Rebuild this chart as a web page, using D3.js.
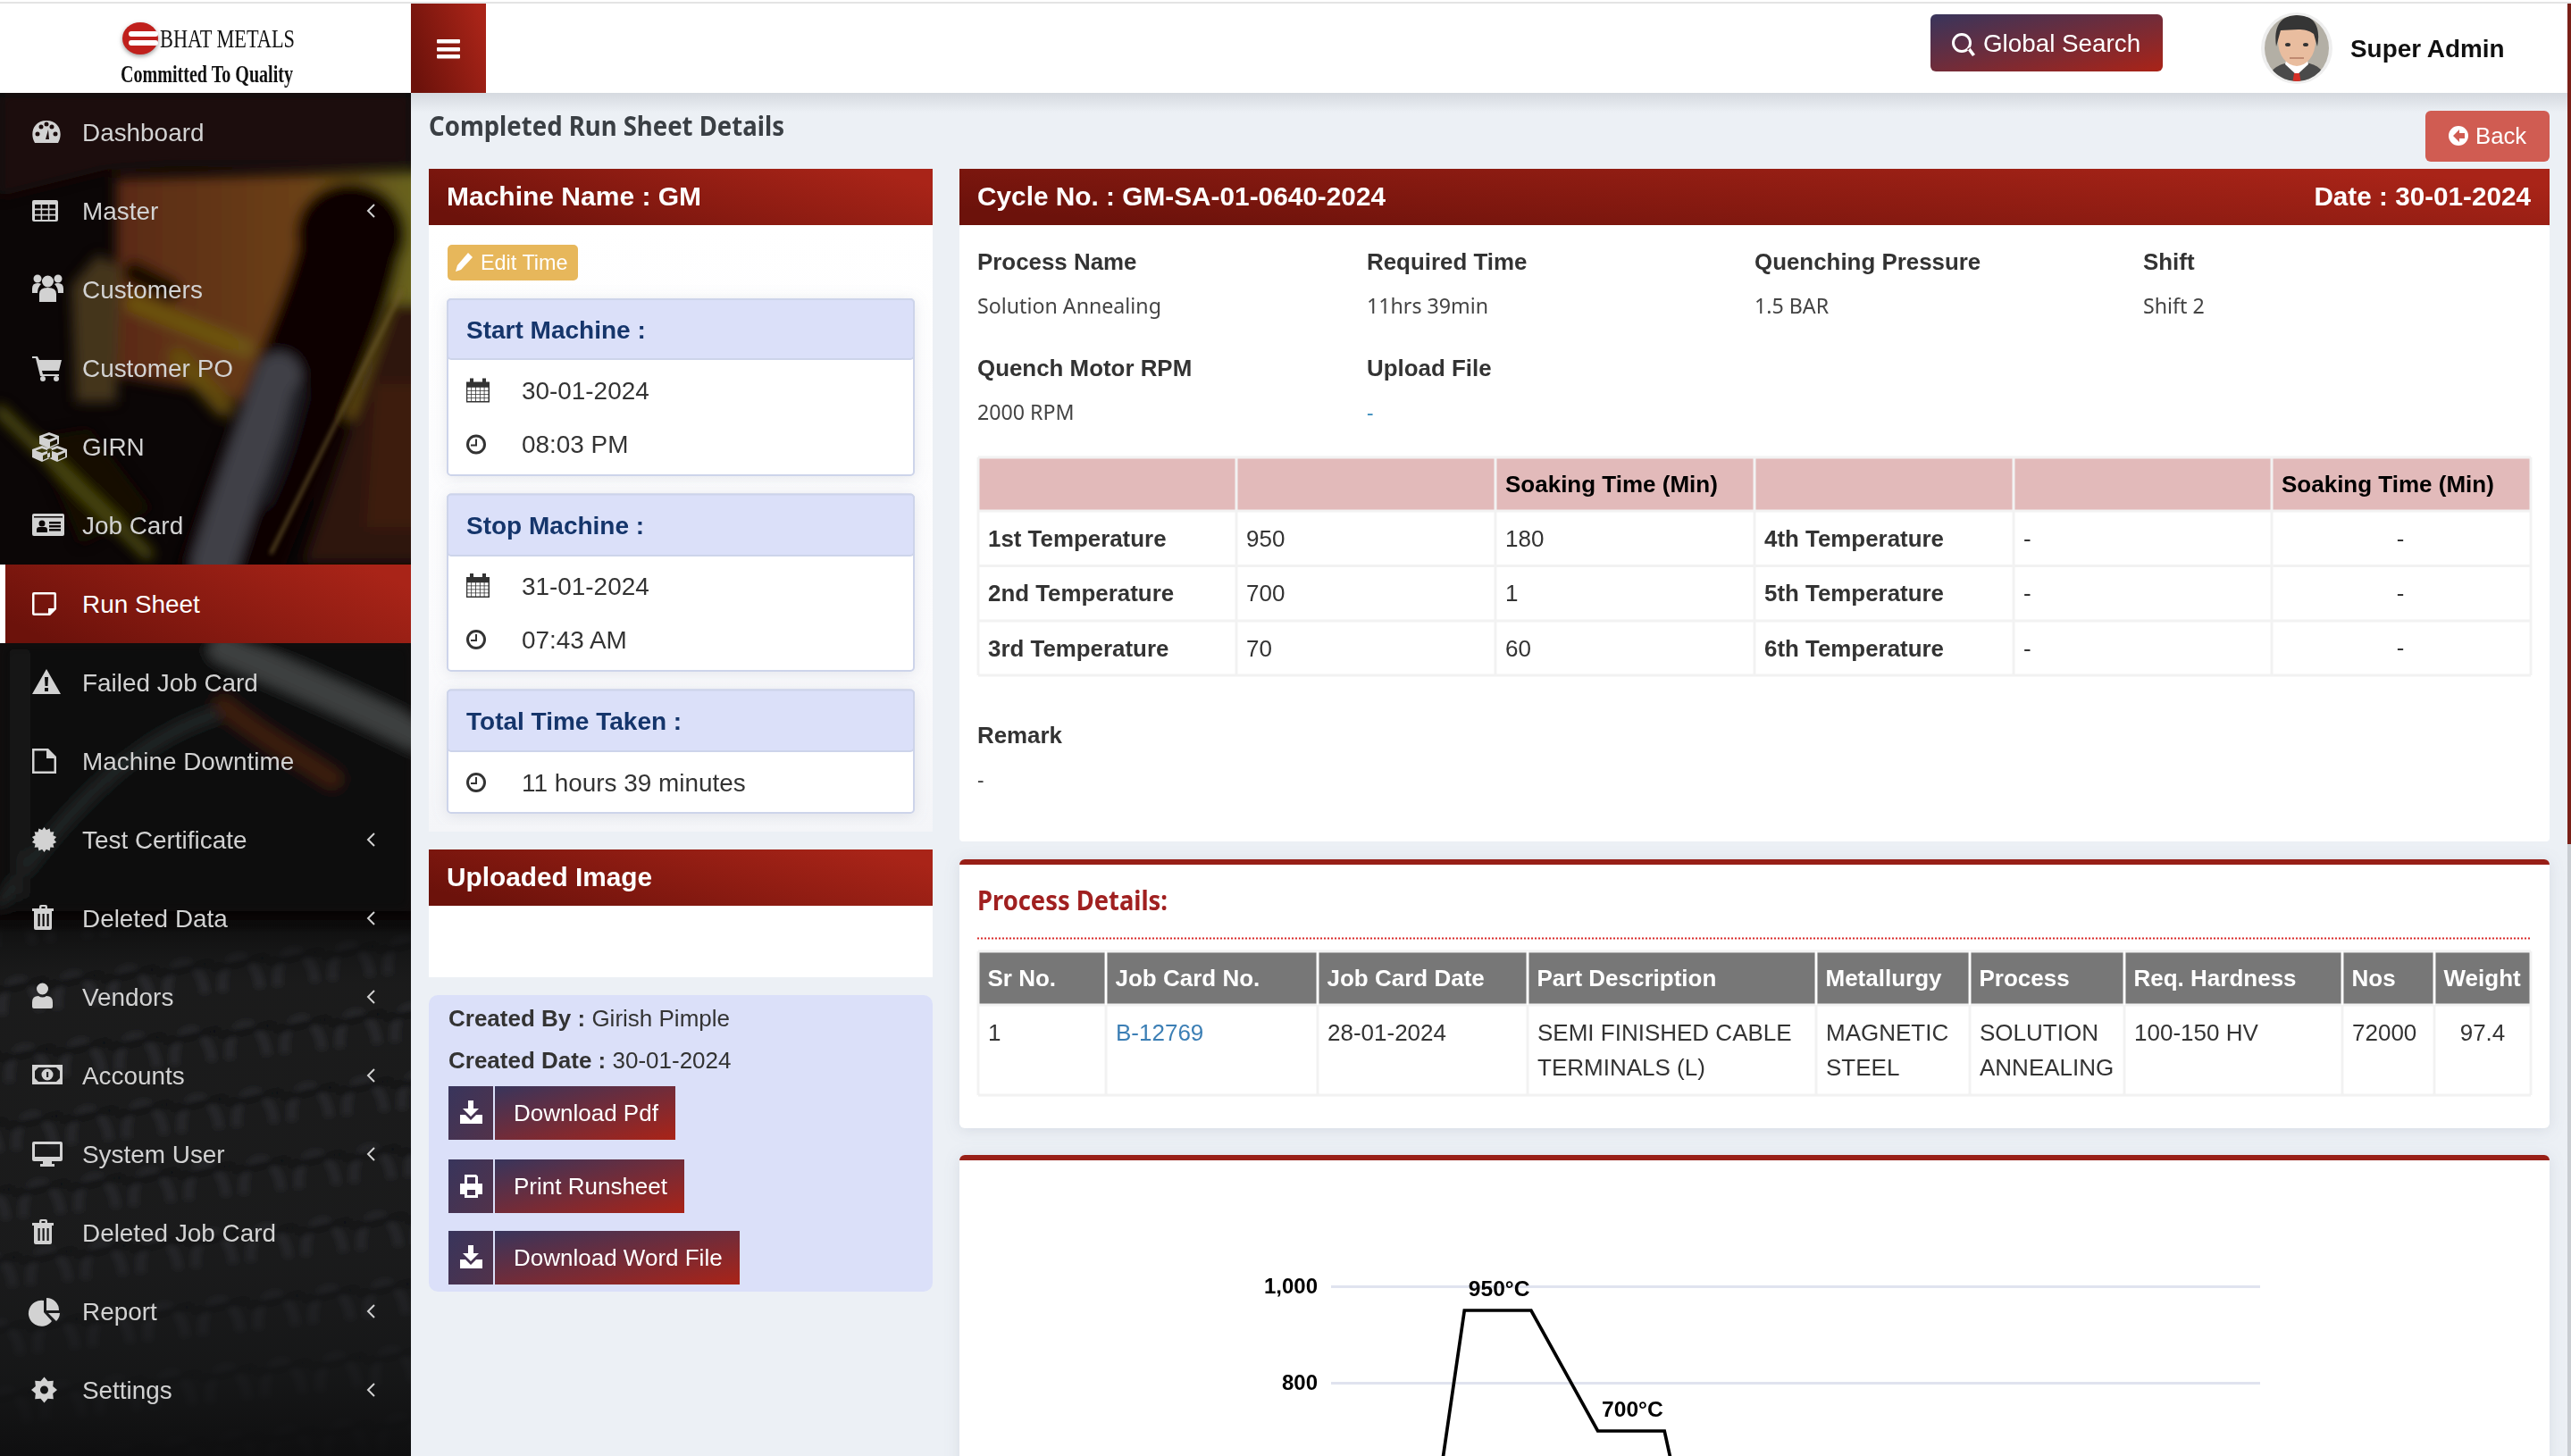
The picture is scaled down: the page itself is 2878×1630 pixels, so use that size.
<!DOCTYPE html>
<html>
<head>
<meta charset="utf-8">
<title>Completed Run Sheet Details</title>
<script src="https://cdnjs.cloudflare.com/ajax/libs/d3/7.8.5/d3.min.js"></script>
<style>
  html, body { margin: 0; padding: 0; background: #ecf0f5; overflow: hidden; }
  svg { display: block; }
</style>
</head>
<body>
<svg id="page" width="2878" height="1630"></svg>
<script>
// ---- data ----
var menuLabels = ["Dashboard", "Master", "Customers", "Customer PO", "GIRN", "Job Card", "Run Sheet", "Failed Job Card",
  "Machine Downtime", "Test Certificate", "Deleted Data", "Vendors", "Accounts", "System User", "Deleted Job Card", "Report", "Settings"];
var menuIcons = ["gauge", "grid", "users", "cart", "cubes", "idcard", "note", "warning",
  "file", "burst", "trash", "user", "money", "desktop", "trash", "pie", "gear"];
var menuWithArrow = ["Master", "Test Certificate", "Deleted Data", "Vendors", "Accounts", "System User", "Report", "Settings"];
var activeMenu = "Run Sheet";

var infoLabels = ["Process Name", "Required Time", "Quenching Pressure", "Shift", "Quench Motor RPM", "Upload File"];
var infoValues = ["Solution Annealing", "11hrs 39min", "1.5 BAR", "Shift 2", "2000 RPM", "-"];

var tempHeader = ["", "", "Soaking Time (Min)", "", "", "Soaking Time (Min)"];
var tempRows = [
  ["1st Temperature", "950", "180", "4th Temperature", "-", "-"],
  ["2nd Temperature", "700", "1", "5th Temperature", "-", "-"],
  ["3rd Temperature", "70", "60", "6th Temperature", "-", "-"]
];

var processHeader = ["Sr No.", "Job Card No.", "Job Card Date", "Part Description", "Metallurgy", "Process", "Req. Hardness", "Nos", "Weight"];
var processRow = [["1"], ["B-12769"], ["28-01-2024"], ["SEMI FINISHED CABLE", "TERMINALS (L)"], ["MAGNETIC", "STEEL"],
  ["SOLUTION", "ANNEALING"], ["100-150 HV"], ["72000"], ["97.4"]];

// chart: the cycle profile, only the top of it is on screen
var chartSteps = [0, 1, 2, 3, 4, 5, 6, 7, 8, 9, 10, 11, 12, 13, 14];
var cycleSteps = [1, 2, 3, 4, 5, 6, 7, 8];
var cycleTemps = [0, 950, 950, 700, 700, 70, 70, 0];
var tempTicks = [800, 1000];

// ---- helpers ----
var svg = d3.select("#page");
var SANS = "'Liberation Sans', Arial, sans-serif";
var SOFT = "'Noto Sans', sans-serif";
var SERIF = "'Liberation Serif', serif";

function txt(g, x, y, s, o) {
  o = o || {};
  var t = g.append("text")
    .attr("x", x).attr("y", y).attr("dy", "0.35em")
    .attr("font-family", o.font || SANS)
    .attr("font-size", o.size || 25.7)
    .attr("font-weight", o.bold ? 700 : 400)
    .attr("fill", o.fill || "#333")
    .attr("text-anchor", o.anchor || "start")
    .text(s);
  // fit width for the fonts we do not have (Source Sans on the original)
  if (o.w) t.attr("textLength", o.w).attr("lengthAdjust", "spacingAndGlyphs");
  return t;
}

function box(g, x, y, w, h, fill, o) {
  o = o || {};
  var r = g.append("rect").attr("x", x).attr("y", y).attr("width", w).attr("height", h).attr("fill", fill);
  if (o.rx) r.attr("rx", o.rx);
  if (o.stroke) r.attr("stroke", o.stroke).attr("stroke-width", o.sw || 2);
  if (o.filter) r.attr("filter", o.filter);
  return r;
}

function dot(x, y, r) {
  return "M" + (x - r) + " " + y + "a" + r + " " + r + " 0 1 0 " + (2 * r) + " 0a" + r + " " + r + " 0 1 0 " + (-2 * r) + " 0Z";
}
function hole(x, y, w, h) {
  return "M" + x + " " + y + "h" + w + "v" + h + "h" + (-w) + "Z";
}
function star(cx, n, ro, ri) {
  var pts = d3.range(n * 2).map(function(i) {
    var a = Math.PI * i / n, r = i % 2 ? ri : ro;
    return (cx + r * Math.sin(a)).toFixed(1) + " " + (-r * Math.cos(a)).toFixed(1);
  });
  return "M" + pts.join("L") + "Z";
}
function cube(cx, cy) {
  return "M" + cx + " " + (cy - 8) + "l11 4v9l-11 5l-11 -5v-9Z" +
    "M" + cx + " " + (cy - 5) + "l-7 2.5l7 2.5l7 -2.5Z" +
    "M" + (cx + 1) + " " + (cy + 3) + "v5l8 -3.5v-5Z";
}

var iconPaths = {
  gauge: "M3 12C-3 2 1 -13 16 -13C31 -13 35 2 29 12Z" + dot(6, 2, 2.5) + dot(10, -6, 2.5) + dot(26, 2, 2.5) + dot(22, -6, 2.5) + dot(16, -9, 2.5) + "M15 8L18 -3L19 8Z",
  grid: "M2 -12H27Q29 -12 29 -10V10Q29 12 27 12H2Q0 12 0 10V-10Q0 -12 2 -12Z" +
    d3.range(3).map(function(c) {
      return d3.range(3).map(function(r) { return hole(3 + c * 8.2, -7 + r * 6.2, 6.6, 4.6); }).join("");
    }).join(""),
  users: dot(6, -12, 4.5) + dot(29, -12, 4.5) + dot(17.5, -9, 6.5) +
    "M8 14V5Q8 -2 17.5 -2Q27 -2 27 5V14Z" + "M0 4V-1Q0 -7 6 -7Q9 -7 10 -6Q6 -2 6 4Z" + "M35 4V-1Q35 -7 29 -7Q26 -7 25 -6Q29 -2 29 4Z",
  cart: "M0 -13H6L8 -9H33L30 3H11L12 7H30V9H9L4 -11H0Z" + dot(12, 12, 3) + dot(27, 12, 3),
  cubes: cube(19, -8) + cube(11, 7) + cube(28, 7),
  idcard: "M2 -13H34Q36 -13 36 -11V10Q36 12 34 12H2Q0 12 0 10V-11Q0 -13 2 -13Z" + hole(2, -10, 32, 1.5) + dot(11, -2, 3.5) + "M5 8V5Q5 2 8 2H14Q17 2 17 5V8Z" + hole(19, -4, 13, 2.5) + hole(19, 0, 13, 2.5) + hole(19, 4, 13, 2.5),
  note: "M2 -13H25Q27 -13 27 -11V6L20 13H2Q0 13 0 11V-11Q0 -13 2 -13Z" + "M2.5 -10.5V10.5H18V5H24.5V-10.5Z",
  warning: "M16 -15L32 13H0Z" + "M14 -6H18L17.5 4H14.5Z" + hole(14, 6, 4, 4),
  file: "M0 -14H18L27 -5V14H0Z" + "M2.5 -11.5V11.5H24.5V-3H16V-11.5Z",
  burst: star(13.5, 14, 14, 11),
  trash: "M8 -11V-13Q8 -15 10 -15H15Q17 -15 17 -13V-11H24V-8H22V11Q22 13 20 13H4Q2 13 2 11V-8H0V-11Z" + hole(10.5, -13, 4, 2) + hole(6.5, -5, 2.2, 14) + hole(11.5, -5, 2.2, 14) + hole(16.5, -5, 2.2, 14),
  user: dot(11.5, -9, 6.5) + "M2 13Q0 13 0 11V6Q0 -1 7 -1Q11.5 2 16 -1Q23 -1 23 6V11Q23 13 21 13Z",
  money: hole(0, -12, 34, 22) + "M7 -9H27L31 -5V3L27 7H7L3 3V-5Z" + dot(17, -1, 6.5) + hole(16, -4, 2.2, 6),
  desktop: "M2 -14H32Q34 -14 34 -12V6Q34 8 32 8H22V11H25V14H9V11H12V8H2Q0 8 0 6V-12Q0 -14 2 -14Z" + hole(3, -11, 28, 14),
  pie: "M13 -12V1L22 11A14.5 14.5 0 1 1 13 -12Z" + "M16 -15A14 14 0 0 1 30 -1H16Z" + "M18 2H31A14 14 0 0 1 27 11Z",
  gear: star(13.5, 8, 14.5, 10.5) + dot(13.5, 0, 4.5),
  calendar: "M0 -10H4V-14H8V-10H18V-14H22V-10H26V13H0Z" +
    d3.range(5).map(function(c) {
      return d3.range(4).map(function(r) { return hole(1.3 + c * 4.8, -3.8 + r * 4, 4, 3.2); }).join("");
    }).join(""),
  clock: dot(11, 0, 11) + dot(11, 0, 8) + "M10 -6H12V2H5V0H10Z",
  pencil: "M14 -11L19 -6L6 8L0 10L2 3Z",
  search: dot(11, -2, 11) + dot(11, -2, 8) + "M17 5L20 3L26 11L23 13Z",
  back: dot(11, 0, 11) + "M12 -7L5 0L12 7V3H18V-3H12Z",
  download: "M9 -14H15V-5H21L12 4L3 -5H9Z" + "M0 2H6L12 8L18 2H25V12H0Z",
  printer: "M5 -13H18L20 -11V-3H25V9H20V13H5V9H0V-3H5Z" + hole(8, -10, 9, 7) + hole(8, 4, 9, 6)
};

function icon(g, name, x, y, fill) {
  return g.append("path").attr("transform", "translate(" + x + "," + y + ")")
    .attr("d", iconPaths[name]).attr("fill", fill).attr("fill-rule", "evenodd");
}

// ---- defs ----
var defs = svg.append("defs");
function grad(id, x1, y1, x2, y2, stops) {
  var g = defs.append("linearGradient").attr("id", id)
    .attr("x1", x1).attr("y1", y1).attr("x2", x2).attr("y2", y2);
  stops.forEach(function(s) { g.append("stop").attr("offset", s[0]).attr("stop-color", s[1]).attr("stop-opacity", s[2] === undefined ? 1 : s[2]); });
}
grad("redHead", 0, 0.7, 1, 0.3, [[0, "#6c120b"], [1, "#a92418"]]);
grad("btnGrad", 0, 0, 1, 1, [[0, "#38355c"], [1, "#aa2317"]]);
grad("btnIcon", 0, 0, 1, 1, [[0, "#38355c"], [1, "#52324a"]]);
grad("headShadow", 0, 0, 0, 1, [[0, "#d5d9df"], [1, "#ecf0f5"]]);
grad("bodyFade", 0, 0, 0, 1, [[0, "#ffffff"], [0.7, "#fbfbfd"], [1, "#f4f5f8"]]);
grad("orangeOlive", 0, 0, 1, 0, [[0, "#5a2a12"], [0.55, "#6a3f14"], [1, "#676a20"]]);
grad("sideFadeBottom", 0, 0, 0, 1, [[0, "#0c0c0c", 0.9], [0.12, "#141516", 0.15], [0.6, "#17181a", 0.3], [0.85, "#141516", 0.75], [1, "#0e0e0f", 0.95]]);
defs.append("filter").attr("id", "blur8").attr("x", "-30%").attr("y", "-30%").attr("width", "160%").attr("height", "160%")
  .append("feGaussianBlur").attr("stdDeviation", 7);
defs.append("filter").attr("id", "blur3").attr("x", "-30%").attr("y", "-30%").attr("width", "160%").attr("height", "160%")
  .append("feGaussianBlur").attr("stdDeviation", 2.5);
defs.append("filter").attr("id", "blurChain").attr("x", "-5%").attr("y", "-5%").attr("width", "110%").attr("height", "110%")
  .append("feGaussianBlur").attr("stdDeviation", 3);
defs.append("filter").attr("id", "soft").attr("x", "-10%").attr("y", "-10%").attr("width", "120%").attr("height", "120%")
  .append("feDropShadow").attr("dx", 0).attr("dy", 2).attr("stdDeviation", 8).attr("flood-color", "#8890a8").attr("flood-opacity", 0.22);
defs.append("clipPath").attr("id", "sideClip").append("rect").attr("x", 0).attr("y", 104).attr("width", 460).attr("height", 1526);
defs.append("clipPath").attr("id", "avatarClip").append("ellipse").attr("cx", 2571).attr("cy", 54).attr("rx", 36).attr("ry", 37);
// the chain mesh at the bottom of the sidebar photo
var chain = defs.append("pattern").attr("id", "chain").attr("patternUnits", "userSpaceOnUse")
  .attr("width", 62).attr("height", 76).attr("patternTransform", "rotate(-6)");
box(chain, 0, 0, 62, 76, "#1b1c1e");
chain.append("path").attr("d", "M8 66C8 18 50 18 50 66").attr("fill", "none").attr("stroke", "#2e2f31").attr("stroke-width", 9);
chain.append("path").attr("d", "M-4 40L66 32").attr("fill", "none").attr("stroke", "#0c0c0d").attr("stroke-width", 7);

// ---- page background ----
box(svg, 0, 0, 2878, 1630, "#ecf0f5");

// ---- sidebar photo ----
var side = svg.append("g").attr("clip-path", "url(#sideClip)");
box(side, 0, 104, 460, 1526, "#0b0606");
var soft = side.append("g").attr("filter", "url(#blur8)");
function smear(d, fill, op) { soft.append("path").attr("d", d).attr("fill", fill).attr("opacity", op === undefined ? 1 : op); }
function streak(d, color, w, op) { soft.append("path").attr("d", d).attr("fill", "none").attr("stroke", color).attr("stroke-width", w).attr("opacity", op === undefined ? 1 : op).attr("stroke-linecap", "round"); }
smear("M0 104H460V185H200L120 190L0 220Z", "#1c0807");
smear("M130 200L490 192V470H300L250 440L130 420Z", "url(#orangeOlive)");
smear("M80 320L110 285L135 300L130 450L85 450Z", "#4a3c1e", 0.9);
smear("M40 490L100 480L170 570L90 610Z", "#180c06");
streak("M150 340L275 390", "#6e5812", 20, 0.9);
streak("M200 400L250 455", "#665010", 22, 0.9);
streak("M0 460L165 620", "#4e4c10", 13);
streak("M150 305L190 325", "#0f0705", 26, 0.9);
smear("M440 340L490 340V630H340Z", "#2e1208");
smear("M420 430L470 430V590H410Z", "#3c1a0a");
streak("M393 265C385 330 340 420 255 640", "#0a0604", 115);
streak("M312 420C290 480 262 560 240 630", "#43454a", 50, 0.95);
streak("M335 440C325 480 315 520 295 560", "#1d1e20", 16);
soft.append("ellipse").attr("cx", 393).attr("cy", 262).attr("rx", 62).attr("ry", 58).attr("fill", "#0a0604");
side.append("path").attr("d", "M450 325L303 620").attr("stroke", "#6d5a2a").attr("stroke-width", 3).attr("fill", "none").attr("filter", "url(#blur3)");
smear("M0 720H460V1020H0Z", "#0a0a0a");
streak("M250 725C330 760 400 790 480 830", "#3d4041", 34);
streak("M250 790C300 830 340 850 372 872", "#3a1a10", 22);
streak("M0 1010C80 900 150 830 240 800", "#242526", 14);
streak("M22 730V1000", "#1b1c1d", 14);
side.append("rect").attr("x", -10).attr("y", 1040).attr("width", 480).attr("height", 600).attr("fill", "url(#chain)").attr("filter", "url(#blurChain)");
box(side, 0, 1030, 460, 600, "url(#sideFadeBottom)");

// ---- sidebar menu ----
var menu = side.selectAll("g.item").data(menuLabels).join("g").attr("class", "item")
  .attr("transform", function(d, i) { return "translate(0," + (104 + 88 * i) + ")"; });
menu.filter(function(d) { return d === activeMenu; }).each(function() {
  var g = d3.select(this);
  box(g, 0, 0, 6, 88, "#fff");
  box(g, 6, 0, 454, 88, "url(#redHead)");
});
menu.each(function(d, i) {
  var g = d3.select(this), col = d === activeMenu ? "#fff" : "#d2d2d2";
  icon(g, menuIcons[i], 36, 44, col);
  txt(g, 92, 44, d, {size: 27.9, fill: col});
  if (menuWithArrow.indexOf(d) >= 0) {
    g.append("path").attr("d", "M419 37L412 44L419 51").attr("fill", "none").attr("stroke", col).attr("stroke-width", 2);
  }
});

// ---- top bar ----
box(svg, 0, 104, 2878, 22, "url(#headShadow)").attr("x", 460);
box(svg, 0, 0, 2878, 104, "#fff");
box(svg, 0, 2, 2878, 2, "#e4e4e4");
var logo = svg.append("g");
logo.append("ellipse").attr("cx", 157).attr("cy", 45).attr("rx", 20).attr("ry", 18).attr("fill", "#999").attr("filter", "url(#blur3)");
logo.append("ellipse").attr("cx", 157).attr("cy", 43).attr("rx", 20).attr("ry", 18).attr("fill", "#c0201c");
box(logo, 144, 35, 33, 6, "#fff", {rx: 3});
box(logo, 144, 45, 33, 6, "#fff", {rx: 3});
txt(logo, 179, 43, "BHAT METALS", {font: SERIF, size: 29, fill: "#111", w: 151});
txt(logo, 135, 82, "Committed To Quality", {font: SERIF, size: 28, bold: true, fill: "#111", w: 193});

box(svg, 460, 4, 84, 100, "url(#redHead)");
[44, 53, 61].forEach(function(y) { box(svg, 489, y, 26, 4.5, "#fff", {rx: 1}); });

box(svg, 2161, 16, 260, 64, "url(#btnGrad)", {rx: 6});
icon(svg, "search", 2185, 50, "#fff");
txt(svg, 2220, 48, "Global Search", {size: 27.8, fill: "#fff"});

var face = svg.append("g");
face.append("ellipse").attr("cx", 2571).attr("cy", 54).attr("rx", 40).attr("ry", 40).attr("fill", "#eeeeee");
var fc = face.append("g").attr("clip-path", "url(#avatarClip)");
box(fc, 2530, 14, 82, 82, "#b3afa5");
fc.append("path").attr("d", "M2537 94C2540 76 2552 72 2562 70H2580C2592 72 2602 76 2605 94Z").attr("fill", "#4a4a4a");
fc.append("path").attr("d", "M2558 72L2571 84L2584 72L2582 64H2560Z").attr("fill", "#fff");
fc.append("path").attr("d", "M2568 82H2574L2576 94H2566Z").attr("fill", "#d63027");
fc.append("ellipse").attr("cx", 2571).attr("cy", 46).attr("rx", 21).attr("ry", 28).attr("fill", "#e9bd9f");
fc.append("path").attr("d", "M2548 52C2544 24 2558 16 2574 17C2592 18 2598 32 2594 52L2590 38C2580 30 2566 34 2553 34Z").attr("fill", "#353535");
fc.append("ellipse").attr("cx", 2561).attr("cy", 50).attr("rx", 3).attr("ry", 2).attr("fill", "#333");
fc.append("ellipse").attr("cx", 2581).attr("cy", 50).attr("rx", 3).attr("ry", 2).attr("fill", "#333");
fc.append("path").attr("d", "M2563 65H2579").attr("stroke", "#b07a62").attr("stroke-width", 1.5);
txt(svg, 2631, 54, "Super Admin", {size: 27.9, bold: true, fill: "#111"});
box(svg, 2874, 4, 4, 941, "#7a2018");
box(svg, 2874, 945, 4, 685, "#c9cdd2");

// ---- page title and back ----
txt(svg, 480, 141.5, "Completed Run Sheet Details", {font: SOFT, size: 31, bold: true, fill: "#3a3f44", w: 398});
box(svg, 2715, 124, 139, 57, "#d05c52", {rx: 6});
icon(svg, "back", 2741, 152, "#fff");
txt(svg, 2771, 152, "Back", {size: 25.7, fill: "#fff"});

// ---- left column ----
box(svg, 480, 252, 564, 679, "url(#bodyFade)");
box(svg, 480, 189, 564, 63, "url(#redHead)");
txt(svg, 500, 219, "Machine Name : GM", {size: 30, bold: true, fill: "#fff"});
box(svg, 501, 274, 146, 40, "#e7b75b", {rx: 5});
icon(svg, "pencil", 510, 294, "#fff");
txt(svg, 538, 294, "Edit Time", {size: 23.4, fill: "#fff"});

function timeCard(top, headBottom, bottom, title, rows) {
  var g = svg.append("g");
  box(g, 501, top, 522, bottom - top, "#fff", {stroke: "#cdd4ea", sw: 2, filter: "url(#soft)", rx: 4});
  box(g, 501, top, 522, headBottom - top, "#dbe0f9", {stroke: "#cdd4ea", sw: 2, rx: 4});
  txt(g, 522, (top + headBottom) / 2 + 0.5, title, {size: 28, bold: true, fill: "#15356b"});
  rows.forEach(function(r) {
    icon(g, r[0], 522, r[1], "#333");
    txt(g, 584, r[1], r[2], {size: 27.9});
  });
}
timeCard(335, 402, 532, "Start Machine :", [["calendar", 437.5, "30-01-2024"], ["clock", 497.5, "08:03 PM"]]);
timeCard(553.5, 622, 751, "Stop Machine :", [["calendar", 656, "31-01-2024"], ["clock", 716, "07:43 AM"]]);
timeCard(772.5, 841, 910, "Total Time Taken :", [["clock", 876, "11 hours 39 minutes"]]);

box(svg, 480, 1014, 564, 80, "#fff");
box(svg, 480, 951, 564, 63, "url(#redHead)");
txt(svg, 500, 982, "Uploaded Image", {size: 29.8, bold: true, fill: "#fff"});

box(svg, 480, 1114, 564, 332, "#dbe0f9", {rx: 10});
var created = txt(svg, 502, 1140, "Created By : ", {size: 26, bold: true});
created.append("tspan").attr("font-weight", 400).text("Girish Pimple");
var createdOn = txt(svg, 502, 1187, "Created Date : ", {size: 26, bold: true});
createdOn.append("tspan").attr("font-weight", 400).text("30-01-2024");
[[1216, 756, "download", "Download Pdf"], [1298, 766, "printer", "Print Runsheet"], [1378, 828, "download", "Download Word File"]].forEach(function(b) {
  box(svg, 502, b[0], 50, 60, "url(#btnIcon)");
  box(svg, 554, b[0], b[1] - 554, 60, "url(#btnGrad)");
  icon(svg, b[2], 515, b[0] + 30, "#fff");
  txt(svg, 575, b[0] + 30, b[3], {size: 26, fill: "#fff"});
});

// ---- right column: cycle header ----
box(svg, 1074, 252, 1780, 690, "#fff", {rx: 4});
box(svg, 1074, 189, 1780, 63, "url(#redHead)");
txt(svg, 1094, 220, "Cycle No. : GM-SA-01-0640-2024", {size: 29.8, bold: true, fill: "#fff"});
txt(svg, 2833, 220, "Date : 30-01-2024", {size: 29.7, bold: true, fill: "#fff", anchor: "end"});

var infoX = d3.scaleOrdinal().domain([0, 1, 2, 3]).range([1094, 1530, 1964, 2399]);
infoLabels.forEach(function(label, i) {
  var rowTop = i < 4 ? 293 : 412, valueY = i < 4 ? 343 : 462;
  var x = infoX(i % 4);
  txt(svg, x, rowTop, label, {size: 25.9, bold: true});
  txt(svg, x, valueY, infoValues[i], {font: SOFT, size: 23.2, fill: label === "Upload File" ? "#3c8dbc" : "#444"});
});

// temperature table
function gridLines(edgesX, edgesY) {
  var g = svg.append("g").attr("stroke", "#f2f2f2").attr("stroke-width", 3);
  g.selectAll("line.v").data(edgesX).join("line").attr("class", "v")
    .attr("x1", function(d) { return d; }).attr("x2", function(d) { return d; })
    .attr("y1", edgesY[0]).attr("y2", edgesY[edgesY.length - 1]);
  g.selectAll("line.h").data(edgesY).join("line").attr("class", "h")
    .attr("y1", function(d) { return d; }).attr("y2", function(d) { return d; })
    .attr("x1", edgesX[0]).attr("x2", edgesX[edgesX.length - 1]);
}
var tempX = [1095, 1384, 1674, 1964, 2254, 2543, 2833];
var tempY = [512, 572, 633.5, 695, 756];
tempHeader.forEach(function(h, i) {
  box(svg, tempX[i] + 1, tempY[0], tempX[i + 1] - tempX[i] - 2, tempY[1] - tempY[0], "#e2baba");
  if (h) txt(svg, tempX[i] + 11, (tempY[0] + tempY[1]) / 2, h, {size: 26, bold: true, fill: "#000"});
});
gridLines(tempX, tempY);
box(svg, 1095, 571, 1738, 2, "#f2f2f2");
tempRows.forEach(function(row, r) {
  var y = (tempY[r + 1] + tempY[r + 2]) / 2;
  row.forEach(function(c, i) {
    var bold = i === 0 || i === 3;
    if (i === 5) txt(svg, (tempX[5] + tempX[6]) / 2 - 1, y, c, {anchor: "middle"});
    else txt(svg, tempX[i] + 11, y, c, {bold: bold, size: bold ? 25.9 : 26});
  });
});
txt(svg, 1094, 823, "Remark", {size: 25.9, bold: true});
txt(svg, 1094, 873, "-", {font: SOFT, size: 23.2, fill: "#444"});

// ---- process details ----
function redTopPanel(top, height) {
  box(svg, 1074, top, 1780, height, "#fff", {rx: 6, filter: "url(#soft)"});
  box(svg, 1074, top, 1780, 12, "#981f17", {rx: 6});
  box(svg, 1074, top + 6, 1780, 6, "#fff");
}
redTopPanel(962, 301);
txt(svg, 1094, 1008.5, "Process Details:", {font: SOFT, size: 30, bold: true, fill: "#a02020", w: 213});
svg.append("line").attr("x1", 1094).attr("x2", 2834).attr("y1", 1050.5).attr("y2", 1050.5)
  .attr("stroke", "#d92b2b").attr("stroke-width", 2).attr("stroke-dasharray", "2 2");
var procX = [1095, 1238, 1475, 1710, 2033, 2205, 2378, 2622, 2725, 2833];
var procY = [1065, 1125, 1226];
processHeader.forEach(function(h, i) {
  box(svg, procX[i] + 1, procY[0], procX[i + 1] - procX[i] - 2, procY[1] - procY[0], "#777777");
  txt(svg, procX[i] + 10.5, 1095, h, {bold: true, fill: "#fff", size: 26});
});
gridLines(procX, procY);
d3.range(procX.length).forEach(function(i) {
  if (i > 0 && i < procX.length - 1) box(svg, procX[i] - 1, procY[0], 2, procY[1] - procY[0], "#fff");
});
processRow.forEach(function(lines, i) {
  lines.forEach(function(line, k) {
    var y = 1156 + k * 38.5;
    if (i === 8) txt(svg, (procX[8] + procX[9]) / 2, y, line, {anchor: "middle", size: 26});
    else txt(svg, procX[i] + 11, y, line, {fill: line === "B-12769" ? "#3c7fb5" : "#333", size: 26});
  });
});

// ---- chart panel ----
redTopPanel(1293, 400);
var chartG = svg.append("g");
var x = d3.scalePoint().domain(chartSteps).range([1490, 2535]);
var y = d3.scaleLinear().domain([0, 1000]).range([1980, 1440]);

var yAxis = d3.axisLeft(y).tickValues(tempTicks).tickFormat(d3.format(",")).tickSize(1040).tickPadding(15);
var axisG = chartG.append("g").attr("transform", "translate(2530,0)").call(yAxis);
axisG.select(".domain").remove();
axisG.selectAll(".tick line").attr("stroke", "#e0e3ef").attr("stroke-width", 3);
axisG.selectAll(".tick text").attr("font-family", SANS).attr("font-size", 24).attr("font-weight", 700).attr("fill", "#000");

var cycle = d3.line()
  .x(function(d, i) { return x(cycleSteps[i]); })
  .y(function(d) { return y(d); });
chartG.append("path").datum(cycleTemps).attr("d", cycle)
  .attr("fill", "none").attr("stroke", "#000").attr("stroke-width", 3.7);

// plateau labels sit above the middle of each soak, the lower ones are below the fold
cycleTemps.forEach(function(t, i) {
  if (t === cycleTemps[i + 1] && y(t) < 1630) {
    var mid = (x(cycleSteps[i]) + x(cycleSteps[i + 1])) / 2;
    txt(chartG, mid + 1.5, y(t) - 25, t + "°C", {size: 24.6, bold: true, fill: "#000", anchor: "middle"});
  }
});
</script>
</body>
</html>
